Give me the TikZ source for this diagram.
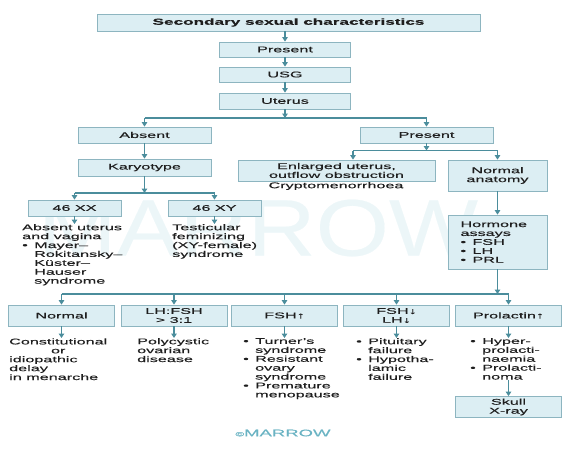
\documentclass[tikz,border=0pt]{standalone}
\usepackage{fontspec}
\setmainfont{Liberation Sans}[FakeStretch=1.95,FakeBold=0.3]
\usetikzlibrary{arrows.meta}
\definecolor{boxfill}{HTML}{DCEEF3}
\definecolor{boxline}{HTML}{8DB5C0}
\definecolor{arrowc}{HTML}{4B8D9C}
\definecolor{txt}{HTML}{1E1E1E}
\definecolor{wm}{HTML}{ECF6F8}
\definecolor{logo}{HTML}{6AB3C3}
\newcommand\bl{\makebox[12pt][l]{\textbullet}}
\newcommand\ind{\hspace*{12pt}}
\newcommand\fs{\fontsize{8.3}{8.9}\selectfont}
\begin{document}
\begin{tikzpicture}[x=1pt,y=-1pt,
  box/.style={draw=boxline,fill=boxfill,line width=0.8pt,inner sep=0pt,align=center,font=\fs,text=txt},
  txtblock/.style={inner sep=0pt,align=left,font=\fs,text=txt,anchor=north west},
  link/.style={draw=arrowc,line width=1.5pt},
  conn/.style={link,-{Triangle[width=5.5pt,length=4.5pt]}}]
\useasboundingbox (0,0) rectangle (584,450);
% watermark
\node[text=wm,inner sep=0pt] (wmark) at (258,228) {\resizebox{440pt}{56pt}{MARROW}};
% top chain
\node[box,minimum width=383pt,minimum height=17pt,font=\fontsize{8.8}{9}\selectfont\bfseries] (title) at (288.5,22.5) {Secondary sexual characteristics};
\node[box,minimum width=131pt,minimum height=15pt] (p1) at (285,49.5) {Present};
\node[box,minimum width=131pt,minimum height=15pt] (usg) at (285,74.5) {USG};
\node[box,minimum width=131pt,minimum height=16pt] (ut) at (285,101) {Uterus};
% left branch
\node[box,minimum width=133pt,minimum height=16pt] (ab) at (144.5,135) {Absent};
\node[box,minimum width=133pt,minimum height=17pt] (ka) at (144.5,167.5) {Karyotype};
\node[box,minimum width=93pt,minimum height=16pt] (xx) at (74.5,208) {46 XX};
\node[box,minimum width=93pt,minimum height=16pt] (xy) at (214.5,208) {46 XY};
\node[txtblock] (t1) at (22,224) {Absent uterus\\and vagina\\\bl Mayer--\\\ind Rokitansky--\\\ind Küster--\\\ind Hauser\\\ind syndrome};
\node[txtblock] (t2) at (172,224) {Testicular\\feminizing\\(XY-female)\\syndrome};
% right branch
\node[box,minimum width=133pt,minimum height=16pt] (p2) at (426.5,135) {Present};
\node[box,minimum width=197pt,minimum height=21pt] (enl) at (336.5,170.5) {Enlarged uterus,\\outflow obstruction};
\node[inner sep=0pt,font=\fs,text=txt,anchor=north] (cry) at (336,182) {Cryptomenorrhoea};
\node[box,minimum width=99pt,minimum height=31pt] (na) at (497.5,175.5) {Normal\\anatomy};
\node[box,minimum width=99pt,minimum height=54pt,text width=74pt,align=left] (ho) at (497.5,242) {Hormone\\assays\\\bl FSH\\\bl LH\\\bl PRL};
% bottom row
\node[box,minimum width=106pt,minimum height=21pt] (n1) at (61.5,315.5) {Normal};
\node[box,minimum width=106pt,minimum height=21pt] (n2) at (174,315.5) {LH:FSH\\> 3:1};
\node[box,minimum width=106pt,minimum height=21pt] (n3) at (284.5,315.5) {FSH↑};
\node[box,minimum width=106pt,minimum height=21pt] (n4) at (396.5,315.5) {FSH↓\\LH↓};
\node[box,minimum width=106pt,minimum height=21pt] (n5) at (508.5,315.5) {Prolactin↑};
\node[txtblock] (b1) at (9,338) {\begin{tabular}{@{}l@{}}Constitutional\\\multicolumn{1}{@{}c@{}}{or}\\idiopathic\\delay\\in menarche\end{tabular}};
\node[txtblock] (b2) at (137,338) {Polycystic\\ovarian\\disease};
\node[txtblock] (b3) at (243,338) {\bl Turner's\\\ind syndrome\\\bl Resistant\\\ind ovary\\\ind syndrome\\\bl Premature\\\ind menopause};
\node[txtblock] (b4) at (356,338) {\bl Pituitary\\\ind failure\\\bl Hypotha-\\\ind lamic\\\ind failure};
\node[txtblock] (b5) at (470,338) {\bl Hyper-\\\ind prolacti-\\\ind naemia\\\bl Prolacti-\\\ind noma};
\node[box,minimum width=106pt,minimum height=21pt] (sk) at (508.5,407) {Skull\\X-ray};
\node[inner sep=0pt,text=logo,font=\fontsize{9.5}{10}\selectfont] (logo) at (283,433) {{\fontsize{6}{6}\selectfont ©}MARROW};
% junctions
\coordinate (j1) at (285,118);
\coordinate (j2) at (144.5,193);
\coordinate (j3) at (426.5,150.5);
\coordinate (j4) at (497.5,294);
\coordinate (e3) at (353,150.5);
% connectors
\draw[conn] (title.south -| p1) -- (p1.north);
\draw[conn] (p1.south) -- (usg.north);
\draw[conn] (usg.south) -- (ut.north);
\draw[conn] (ut.south) -- (j1);
\draw[link] (ab.north |- j1) -- (p2.north |- j1);
\draw[conn] (ab.north |- j1) -- (ab.north);
\draw[conn] (p2.north |- j1) -- (p2.north);
\draw[conn] (ab.south) -- (ka.north);
\draw[conn] (ka.south) -- (j2);
\draw[link] (xx.north |- j2) -- (xy.north |- j2);
\draw[conn] (xx.north |- j2) -- (xx.north);
\draw[conn] (xy.north |- j2) -- (xy.north);
\draw[conn] (xx.south) -- (xx.south |- t1.north);
\draw[conn] (xy.south) -- (xy.south |- t2.north);
\draw[conn] (p2.south) -- (j3);
\draw[link] (e3) -- (na.north |- j3);
\draw[conn] (e3) -- (e3 |- enl.north);
\draw[conn] (na.north |- j3) -- (na.north);
\draw[conn] (na.south) -- (ho.north);
\draw[conn] (ho.south) -- (j4);
\draw[link] (n1.north |- j4) -- (n5.north |- j4);
\foreach \n in {n1,n2,n3,n4,n5} {\draw[conn] (\n.north |- j4) -- (\n.north);}
\draw[conn] (n1.south) -- (n1.south |- b1.north);
\draw[conn] (n2.south) -- (n2.south |- b2.north);
\draw[conn] (n3.south) -- (n3.south |- b3.north);
\draw[conn] (n4.south) -- (n4.south |- b4.north);
\draw[conn] (n5.south) -- (n5.south |- b5.north);
\draw[conn] (sk.north |- b5.south) -- (sk.north);
\end{tikzpicture}
\end{document}
